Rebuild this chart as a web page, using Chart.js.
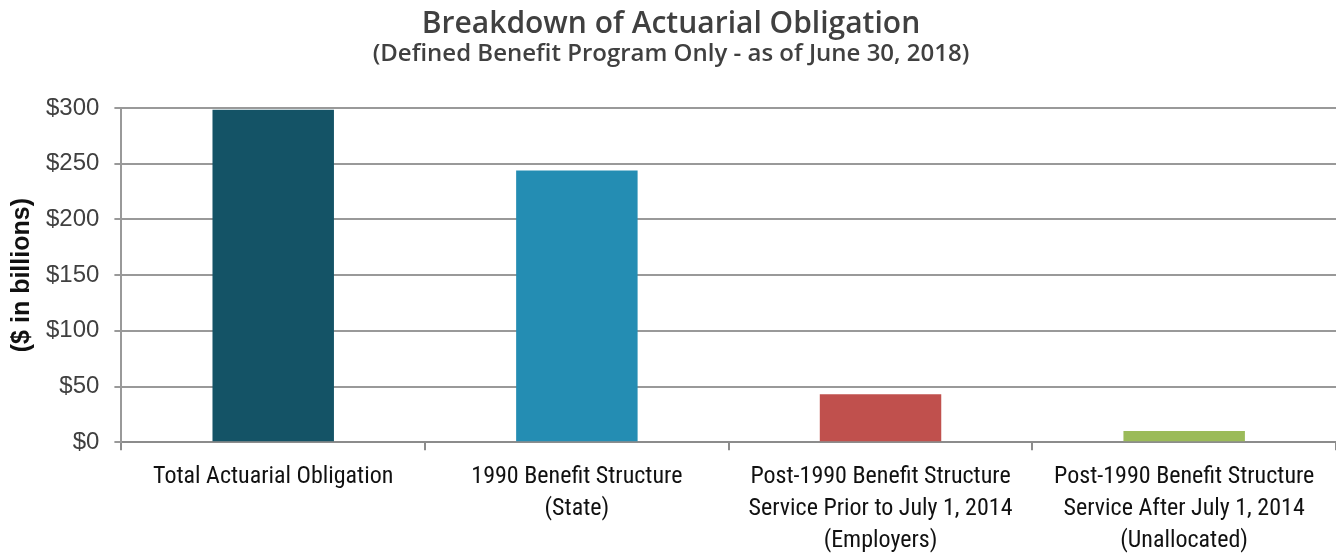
<!DOCTYPE html>
<html>
<head>
<meta charset="utf-8">
<script src="https://cdn.jsdelivr.net/npm/chart.js@4"></script>
<style>
  html, body { margin: 0; padding: 0; background: #fff; overflow: hidden; }
  #wrap { width: 1336px; height: 556px; overflow: hidden; }
</style>
</head>
<body>
<div id="wrap"><canvas id="myChart" width="1336" height="568"></canvas></div>
<script>
// chart data
const categories = [
  ["Total Actuarial Obligation"],
  ["1990 Benefit Structure", "(State)"],
  ["Post-1990 Benefit Structure", "Service Prior to July 1, 2014", "(Employers)"],
  ["Post-1990 Benefit Structure", "Service After July 1, 2014", "(Unallocated)"]
];
const obligation = [298.5, 244, 43, 10];
const barColors = ["#145366", "#248db3", "#c0504d", "#9bbb59"];
const yTicks = [0, 50, 100, 150, 200, 250, 300];

const narrow = "'Liberation Sans Narrow', 'Roboto Condensed', 'Liberation Sans', sans-serif";
const sans = "'Liberation Sans', Arial, sans-serif";

const ctx = document.getElementById("myChart").getContext("2d");
new Chart(ctx, {
  type: "bar",
  data: {
    labels: categories,
    datasets: [
      {
        label: "Obligation",
        data: obligation,
        backgroundColor: barColors,
        barPercentage: 0.4,
        categoryPercentage: 1.0
      }
    ]
  },
  options: {
    responsive: false,
    animation: false,
    layout: { padding: { left: 6, right: 0, top: 6, bottom: 0 } },
    plugins: {
      legend: { display: false },
      tooltip: { enabled: false },
      title: {
        display: true,
        text: "Breakdown of Actuarial Obligation",
        color: "#404040",
        font: { family: "'Open Sans', sans-serif", size: 30, weight: "600", lineHeight: 1.2 },
        padding: { top: 0, bottom: 0 }
      },
      subtitle: {
        display: true,
        text: "(Defined Benefit Program Only - as of June 30, 2018)",
        color: "#404040",
        font: { family: "'Open Sans', sans-serif", size: 24, weight: "600", lineHeight: 1.0 },
        padding: { top: 0, bottom: 42 }
      }
    },
    scales: {
      x: {
        grid: {
          offset: true,
          drawOnChartArea: false,
          color: "#8c8c8c",
          lineWidth: 2,
          tickLength: 8
        },
        border: { color: "#8c8c8c", width: 2 },
        ticks: {
          color: "#111",
          font: { family: narrow, size: 24, lineHeight: 1.33 },
          padding: 11,
          maxRotation: 0,
          autoSkip: false
        }
      },
      y: {
        min: 0,
        max: 300,
        afterBuildTicks: (axis) => {
          axis.ticks = yTicks.map((v) => ({ value: v }));
        },
        grid: {
          color: "#999",
          lineWidth: 2,
          tickLength: 7
        },
        border: { color: "#999", width: 2 },
        ticks: {
          color: "#404040",
          font: { family: sans, size: 24 },
          padding: 15,
          callback: (v) => "$" + v
        },
        title: {
          display: true,
          text: "($ in billions)",
          color: "#111",
          font: { family: sans, size: 25, weight: "bold", lineHeight: 1.0 },
          padding: { top: 4, bottom: -4 }
        }
      }
    }
  }
});
</script>
</body>
</html>
